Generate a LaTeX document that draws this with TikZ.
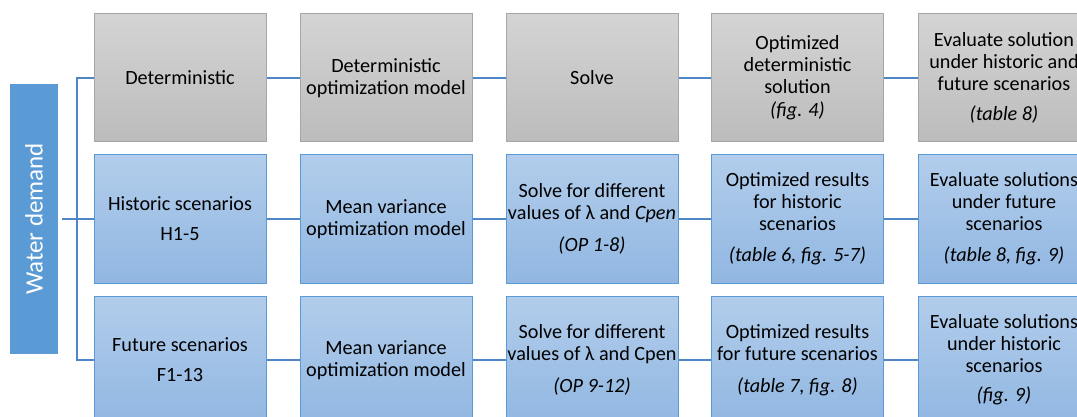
\documentclass[tikz,border=0pt]{standalone}
\usepackage{fontspec}
\setmainfont{Carlito}
\definecolor{gtop}{HTML}{D4D4D4}
\definecolor{gbot}{HTML}{BCBCBC}
\definecolor{gline}{HTML}{A6A6A6}
\definecolor{btop}{HTML}{B2CDEB}
\definecolor{bbot}{HTML}{91B7E2}
\definecolor{bline}{HTML}{5B9BD5}
\definecolor{conn}{HTML}{4F87C6}
\definecolor{wdfill}{HTML}{5B9BD5}
\tikzset{
  box/.style={rectangle, minimum width=172pt, minimum height=128pt, inner sep=0pt,
    align=center, line width=1pt, text=black,
    font=\fontsize{20.2}{21.8}\selectfont},
  gbox/.style={box, draw=gline, top color=gtop, bottom color=gbot},
  bbox/.style={box, draw=bline, top color=btop, bottom color=bbot},
  wdbox/.style={rectangle, fill=wdfill, minimum width=270pt, minimum height=48pt,
    inner sep=0pt, rotate=90, text=white, font=\fontsize{25}{28}\selectfont},
  link/.style={draw=conn, line width=2.4pt}
}
\begin{document}
\begin{tikzpicture}[x=1pt,y=-1pt]
\clip (0,0) rectangle (1077,417);
\fill[white] (0,0) rectangle (1077,417);
\node[wdbox] (wd) at (34,219) {Water demand};
% row 1
\node[gbox] (a1) at (180,78) {Deterministic};
\node[gbox] (a2) at (386,78) {Deterministic\\optimization model};
\node[gbox] (a3) at (592,78) {Solve};
\node[gbox] (a4) at (797.5,78) {Optimized\\deterministic\\solution\\[1.5pt]\textit{(fig. 4)}};
\node[gbox] (a5) at (1004,78) {Evaluate solution\\under historic and\\future scenarios\\[8pt]\textit{(table 8)}};
% row 2
\node[bbox] (b1) at (180,219) {Historic scenarios\\[8pt]H1-5};
\node[bbox] (b2) at (386,219) {Mean variance\\optimization model};
\node[bbox] (b3) at (592,219) {Solve for different\\values of λ and \textit{Cpen}\\[10pt]\textit{(OP 1-8)}};
\node[bbox] (b4) at (797.5,219) {Optimized results\\for historic\\scenarios\\[10pt]\textit{(table 6, fig. 5-7)}};
\node[bbox] (b5) at (1004,219) {Evaluate solutions\\under future\\scenarios\\[10pt]\textit{(table 8, fig. 9)}};
% row 3
\node[bbox] (c1) at (180,360) {Future scenarios\\[8pt]F1-13};
\node[bbox] (c2) at (386,360) {Mean variance\\optimization model};
\node[bbox] (c3) at (592,360) {Solve for different\\values of λ and Cpen\\[10pt]\textit{(OP 9-12)}};
\node[bbox] (c4) at (797.5,360) {Optimized results\\for future scenarios\\[10pt]\textit{(table 7, fig. 8)}};
\node[bbox] (c5) at (1004,360) {Evaluate solutions\\under historic\\scenarios\\[8pt]\textit{(fig. 9)}};
% connectors
\coordinate (j) at (77,219);
\draw[link, shorten <=4pt] (wd.south) -- (j);
\draw[link] (a1.west) -| (j) |- (c1.west);
\draw[link] (j) -- (b1.west);
\foreach \r in {a,b,c}{
  \draw[link] (\r1.east) -- (\r2.west);
  \draw[link] (\r2.east) -- (\r3.west);
  \draw[link] (\r3.east) -- (\r4.west);
  \draw[link] (\r4.east) -- (\r5.west);
}
\end{tikzpicture}
\end{document}
